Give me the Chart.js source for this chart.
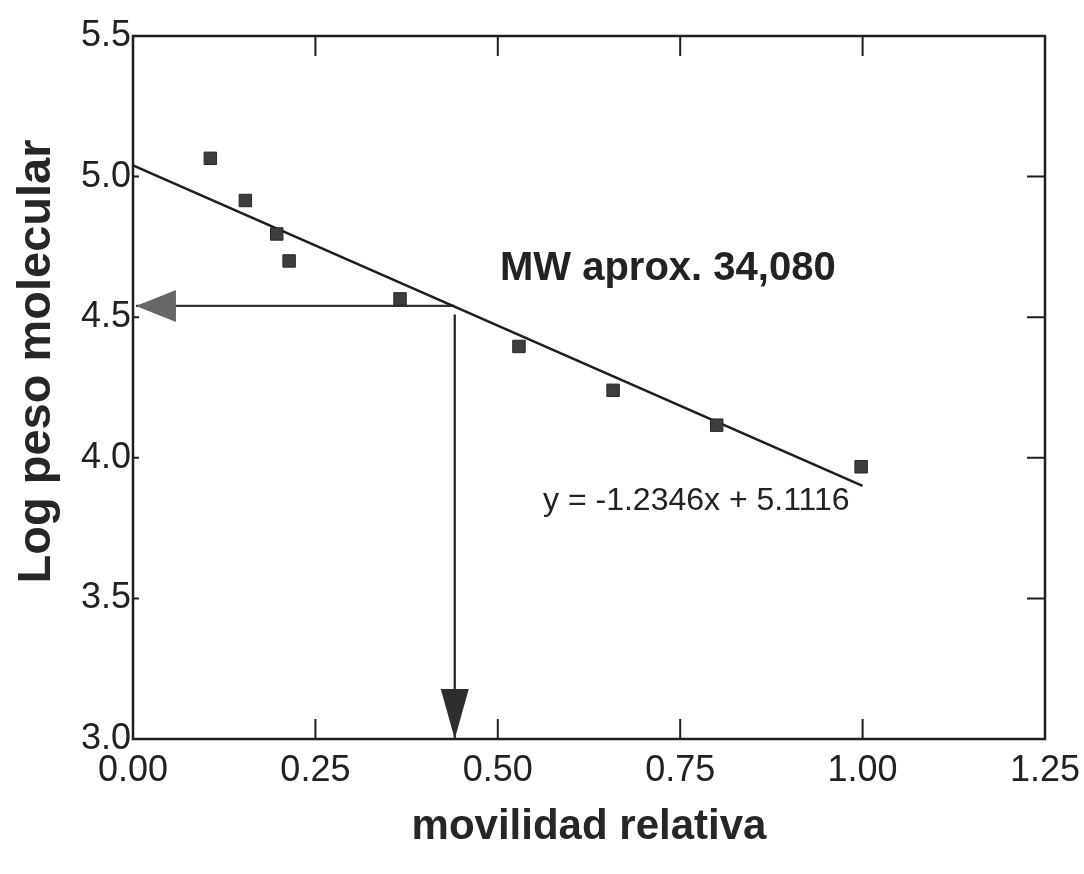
<!DOCTYPE html>
<html>
<head>
<meta charset="utf-8">
<script src="https://cdn.jsdelivr.net/npm/chart.js@4.4.1/dist/chart.umd.min.js"></script>
<style>
  html, body { margin: 0; padding: 0; background: #fff; }
  canvas { display: block; }
</style>
</head>
<body>
<canvas id="grafico" width="1084" height="874"></canvas>
<script>
// Datos
const movilidad = [0.106, 0.154, 0.197, 0.214, 0.366, 0.529, 0.658, 0.800, 0.998];
const logPeso = [5.065, 4.915, 4.796, 4.700, 4.565, 4.396, 4.240, 4.116, 3.968];

// recta de ajuste tal como aparece dibujada
const ajusteX = [0, 1.0];
const ajusteY = [5.04, 3.90];

// flechas de lectura
const flechaHX = [0.441, 0.004];
const flechaHY = [4.54, 4.54];
const flechaVX = [0.441, 0.441];
const flechaVY = [4.51, 3.0];

const ticksX = [0, 0.25, 0.5, 0.75, 1.0, 1.25];
const etiquetasX = ['0.00', '0.25', '0.50', '0.75', '1.00', '1.25'];
const ticksY = [3.0, 3.5, 4.0, 4.5, 5.0, 5.5];
const etiquetasY = ['3.0', '3.5', '4.0', '4.5', '5.0', '5.5'];

const FUENTE = '"Liberation Sans", Arial, Helvetica, sans-serif';

function puntos(xs, ys) {
  return xs.map((x, i) => ({ x, y: ys[i] }));
}

// marco con marcas hacia dentro
const marco = {
  id: 'marco',
  beforeDatasetsDraw(chart) {
    const { ctx, chartArea: a, scales: { x, y } } = chart;
    ctx.save();
    ctx.strokeStyle = '#1e1e1e';
    ctx.lineWidth = 2.5;
    ctx.strokeRect(a.left, a.top, a.width, a.height);
    ctx.lineWidth = 2;
    ctx.beginPath();
    x.ticks.forEach(t => {
      if (t.value <= x.min || t.value >= x.max) return;
      const px = x.getPixelForValue(t.value);
      ctx.moveTo(px, a.bottom);
      ctx.lineTo(px, a.bottom - 20);
      ctx.moveTo(px, a.top);
      ctx.lineTo(px, a.top + 20);
    });
    y.ticks.forEach(t => {
      if (t.value <= y.min || t.value >= y.max) return;
      const py = y.getPixelForValue(t.value);
      ctx.moveTo(a.right, py);
      ctx.lineTo(a.right - 18, py);
      ctx.moveTo(a.left, py);
      ctx.lineTo(a.left + 6, py);
    });
    ctx.stroke();
    ctx.restore();
  }
};

// puntas de flecha al final de los datasets que la llevan
const puntas = {
  id: 'puntas',
  afterDatasetsDraw(chart) {
    const ctx = chart.ctx;
    chart.data.datasets.forEach((ds, i) => {
      if (!ds.punta) return;
      const pts = chart.getDatasetMeta(i).data;
      const p1 = pts[pts.length - 1];
      const p0 = pts[pts.length - 2];
      const ang = Math.atan2(p1.y - p0.y, p1.x - p0.x);
      const { largo, mitad, color } = ds.punta;
      const bx = p1.x - Math.cos(ang) * largo;
      const by = p1.y - Math.sin(ang) * largo;
      ctx.save();
      ctx.fillStyle = color;
      ctx.beginPath();
      ctx.moveTo(p1.x, p1.y);
      ctx.lineTo(bx - Math.sin(ang) * mitad, by + Math.cos(ang) * mitad);
      ctx.lineTo(bx + Math.sin(ang) * mitad, by - Math.cos(ang) * mitad);
      ctx.closePath();
      ctx.fill();
      ctx.restore();
    });
  }
};

// textos dentro del grafico y titulo del eje y
const notas = {
  id: 'notas',
  afterDraw(chart, args, opts) {
    const { ctx, chartArea: a, scales: { x, y } } = chart;
    ctx.save();
    ctx.fillStyle = '#222';
    ctx.textAlign = 'left';
    ctx.textBaseline = 'middle';
    opts.textos.forEach(n => {
      ctx.font = n.font;
      ctx.fillText(n.texto, x.getPixelForValue(n.x), y.getPixelForValue(n.y));
    });
    // titulo vertical, algo desplazado hacia arriba como en el original
    ctx.translate(37, (a.top + a.bottom) / 2 - 26);
    ctx.rotate(-Math.PI / 2);
    ctx.textAlign = 'center';
    ctx.fillStyle = '#262626';
    ctx.font = 'bold 47px ' + FUENTE;
    ctx.fillText(opts.tituloY, 0, 0);
    ctx.restore();
  }
};

new Chart(document.getElementById('grafico'), {
  type: 'scatter',
  data: {
    datasets: [
      {
        label: 'datos',
        data: puntos(movilidad, logPeso),
        pointStyle: 'rect',
        pointRadius: 8.8,
        backgroundColor: '#3d3d3d',
        borderColor: '#262626',
        borderWidth: 1
      },
      {
        label: 'ajuste',
        data: puntos(ajusteX, ajusteY),
        showLine: true,
        pointRadius: 0,
        borderColor: '#1e1e1e',
        borderWidth: 2.6
      },
      {
        label: 'flecha horizontal',
        data: puntos(flechaHX, flechaHY),
        showLine: true,
        pointRadius: 0,
        borderColor: '#333',
        borderWidth: 2.2,
        punta: { largo: 40, mitad: 16, color: '#676767' }
      },
      {
        label: 'flecha vertical',
        data: puntos(flechaVX, flechaVY),
        showLine: true,
        pointRadius: 0,
        borderColor: '#222',
        borderWidth: 2.2,
        punta: { largo: 50, mitad: 14, color: '#2e2e2e' }
      }
    ]
  },
  options: {
    responsive: false,
    animation: false,
    layout: { padding: { top: 36, right: 39, left: 0, bottom: 0 } },
    plugins: {
      legend: { display: false },
      tooltip: { enabled: false },
      notas: {
        tituloY: 'Log peso molecular',
        textos: [
          { texto: 'MW aprox. 34,080', x: 0.503, y: 4.672, font: 'bold 40px ' + FUENTE },
          { texto: 'y = -1.2346x + 5.1116', x: 0.562, y: 3.845, font: '32px ' + FUENTE }
        ]
      }
    },
    scales: {
      x: {
        type: 'linear',
        min: 0,
        max: 1.25,
        afterBuildTicks: s => { s.ticks = ticksX.map(v => ({ value: v })); },
        afterFit: s => { s.height = 135; s.paddingLeft = 0; s.paddingRight = 0; },
        grid: { display: false, drawTicks: false },
        border: { display: false },
        ticks: {
          callback: (v, i) => etiquetasX[i],
          font: { family: FUENTE, size: 36 },
          color: '#222',
          padding: 10,
          maxRotation: 0
        },
        title: {
          display: true,
          text: 'movilidad relativa',
          font: { family: FUENTE, size: 42, weight: 'bold' },
          color: '#262626',
          padding: { top: 0, bottom: 21 }
        }
      },
      y: {
        type: 'linear',
        min: 3,
        max: 5.5,
        afterBuildTicks: s => { s.ticks = ticksY.map(v => ({ value: v })); },
        afterFit: s => { s.width = 133; },
        grid: { display: false, drawTicks: false },
        border: { display: false },
        ticks: {
          callback: (v, i) => etiquetasY[i],
          font: { family: FUENTE, size: 36 },
          color: '#222',
          padding: 2
        }
      }
    }
  },
  plugins: [marco, puntas, notas]
});
</script>
</body>
</html>
